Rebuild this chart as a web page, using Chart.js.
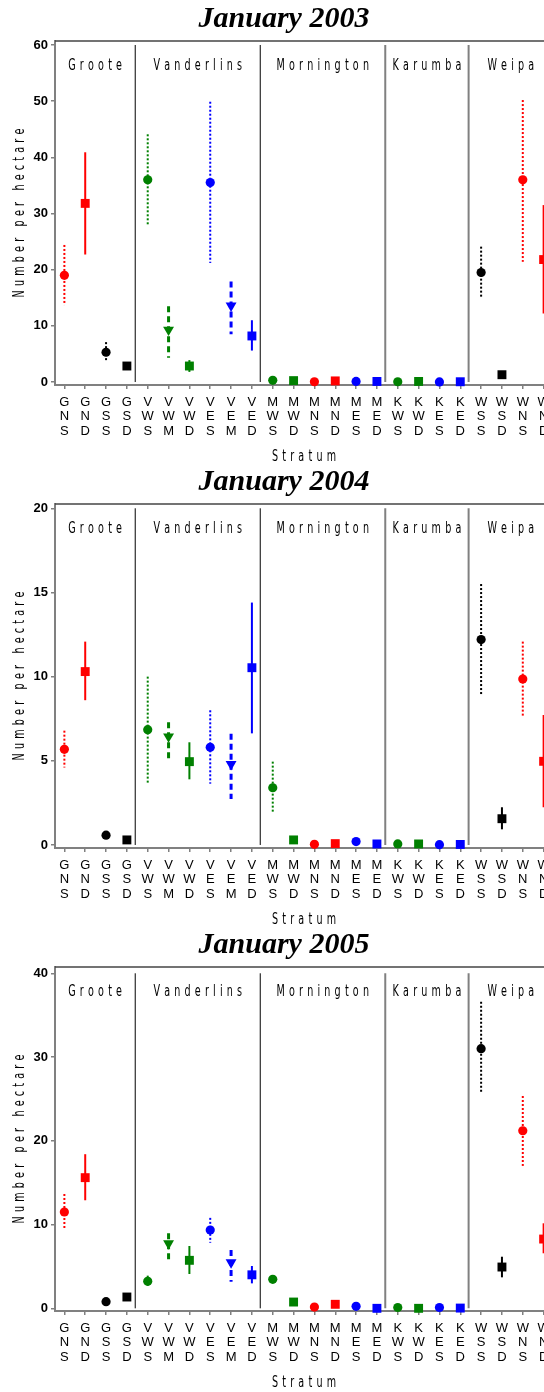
<!DOCTYPE html>
<html>
<head>
<meta charset="utf-8">
<script src="https://cdn.jsdelivr.net/npm/chart.js@4.4.1/dist/chart.umd.min.js"></script>
<style>
  html, body { margin: 0; padding: 0; background: #fff; overflow: hidden; }
  #wrap { position: relative; width: 544px; height: 1392px; overflow: hidden; background: #fff; }
  #wrap canvas { position: absolute; left: 0; }
</style>
</head>
<body>
<div id="wrap">
  <canvas id="c2003" width="568" height="463" style="top:0px"></canvas>
  <canvas id="c2004" width="568" height="463" style="top:463px"></canvas>
  <canvas id="c2005" width="568" height="466" style="top:926px"></canvas>
</div>
<script>
// Strata: region letter, sub-area letter, depth letter (S shallow, M mid, D deep)
const strata = ['GNS','GND','GSS','GSD','VWS','VWM','VWD','VES','VEM','VED',
                'MWS','MWD','MNS','MND','MES','MED','KWS','KWD','KES','KED',
                'WSS','WSD','WNS','WND'];
const regions = ['Groote', 'Vanderlins', 'Mornington', 'Karumba', 'Weipa'];
const regionCounts = [4, 6, 6, 4, 4];

// January 2003
const mean2003 = [19.0, 31.8, 5.3, 2.85, 36.0, 9.3, 2.85, 35.5, 13.6, 8.2,
                  0.3, 0.25, 0.05, 0.2, 0.1, 0.1, 0.05, 0.1, 0.02, 0.05,
                  19.5, 1.3, 36.0, 21.8];
const low2003  = [13.7, 22.7, 3.7, 2.6, 27.9, 4.3, 1.8, 21.2, 8.5, 5.6,
                  0.2, 0.2, 0.03, 0.15, 0.05, 0.05, 0.03, 0.05, 0.01, 0.03,
                  14.9, 1.1, 21.4, 12.2];
const high2003 = [24.4, 40.9, 7.1, 3.1, 44.1, 13.5, 3.9, 49.9, 17.9, 11.0,
                  0.4, 0.3, 0.07, 0.25, 0.15, 0.15, 0.07, 0.15, 0.03, 0.07,
                  24.1, 1.5, 50.2, 31.5];
const yTicks2003 = [0, 10, 20, 30, 40, 50, 60];

// January 2004
const mean2004 = [5.68, 10.3, 0.58, 0.3, 6.85, 6.44, 4.95, 5.8, 4.8, 10.53,
                  3.4, 0.3, 0.04, 0.08, 0.2, 0.06, 0.06, 0.06, 0.02, 0.03,
                  12.2, 1.56, 9.86, 4.97];
const low2004  = [4.6, 8.6, 0.5, 0.25, 3.7, 5.09, 3.9, 3.64, 2.73, 6.63,
                  1.92, 0.25, 0.02, 0.05, 0.15, 0.04, 0.04, 0.04, 0.01, 0.02,
                  8.9, 0.93, 7.68, 2.24];
const high2004 = [6.79, 12.08, 0.66, 0.35, 10.0, 7.29, 6.1, 8.0, 6.6, 14.4,
                  4.95, 0.35, 0.06, 0.11, 0.25, 0.08, 0.08, 0.08, 0.03, 0.04,
                  15.5, 2.24, 12.08, 7.72];
const yTicks2004 = [0, 5, 10, 15, 20];

// January 2005
const mean2005 = [11.5, 15.6, 0.79, 1.35, 3.22, 7.75, 5.73, 9.35, 5.48, 4.0,
                  3.46, 0.75, 0.15, 0.48, 0.24, 0.0, 0.1, 0.0, 0.1, 0.03,
                  31.0, 4.93, 21.2, 8.27];
const low2005  = [9.55, 12.9, 0.7, 1.2, 2.5, 5.68, 4.1, 7.83, 3.18, 2.98,
                  3.0, 0.6, 0.1, 0.4, 0.18, 0.0, 0.05, 0.0, 0.05, 0.01,
                  25.7, 3.7, 17.0, 6.57];
const high2005 = [13.65, 18.4, 0.9, 1.5, 3.9, 8.96, 7.44, 10.8, 6.96, 5.05,
                  3.9, 0.9, 0.2, 0.55, 0.3, 0.0, 0.15, 0.0, 0.15, 0.05,
                  36.6, 6.16, 25.35, 10.15];
const yTicks2005 = [0, 10, 20, 30, 40];

// Styling keyed by the stratum code letters
const colourOf = { N: '#ff0000', S: '#000000', W: '#008000', E: '#0000ff' };
const shapeOf  = { S: 'circle', M: 'triangle', D: 'rect' };
const radiusOf = { S: 4.6, M: 6.3, D: 6.3 };
const dashOf   = { S: [2, 2], M: [6, 4], D: [] };
const widthOf  = { S: 2, M: 3, D: 2 };

const SANS = "'Liberation Sans', Arial, sans-serif";
const STROKE_FONT = "'DejaVu Sans', sans-serif";

// Thin, widely spaced lettering for panel and axis labels
function spacedText(ctx, text, cx, cy, angle) {
  const sx = 0.6, gap = 4.2;
  ctx.save();
  ctx.font = '16px ' + STROKE_FONT;
  ctx.fillStyle = '#000';
  ctx.textBaseline = 'alphabetic';
  ctx.textAlign = 'left';
  const chars = [...text];
  const widths = chars.map(ch => ctx.measureText(ch).width * sx);
  const total = widths.reduce((a, b) => a + b, 0) + gap * (chars.length - 1);
  ctx.translate(cx, cy);
  if (angle) ctx.rotate(angle);
  let x = -total / 2;
  chars.forEach((ch, i) => {
    ctx.save();
    ctx.translate(x, 0);
    ctx.scale(sx, 1);
    ctx.fillText(ch, 0, 0);
    ctx.restore();
    x += widths[i] + gap;
  });
  ctx.restore();
}

// Vertical confidence bars, line style by depth
const errorBarPlugin = {
  id: 'errorBars',
  beforeDatasetsDraw(chart, args, opts) {
    const { ctx, scales: { x, y } } = chart;
    ctx.save();
    ctx.lineCap = 'butt';
    strata.forEach((code, i) => {
      const kind = code[2];
      const px = x.getPixelForValue(i);
      ctx.beginPath();
      ctx.setLineDash(dashOf[kind]);
      ctx.lineWidth = widthOf[kind];
      ctx.strokeStyle = colourOf[code[1]];
      ctx.moveTo(px, y.getPixelForValue(opts.high[i]));
      ctx.lineTo(px, y.getPixelForValue(opts.low[i]));
      ctx.stroke();
    });
    ctx.restore();
  }
};

// Frame, region dividers, region names, axis titles and the panel title
const framePlugin = {
  id: 'frame',
  beforeDatasetsDraw(chart, args, opts) {
    const { ctx, chartArea: a, scales: { x, y } } = chart;
    ctx.save();
    // top frame line
    ctx.beginPath();
    ctx.strokeStyle = '#444';
    ctx.lineWidth = 1.5;
    ctx.moveTo(a.left, a.top);
    ctx.lineTo(chart.width, a.top);
    ctx.stroke();
    // dividers between regions
    const yBottom = y.getPixelForValue(0);
    const yTop = y.getPixelForValue(opts.ticks[opts.ticks.length - 1]);
    let cum = 0;
    const bounds = [a.left];
    regionCounts.forEach((n, k) => {
      cum += n;
      if (k < regionCounts.length - 1) {
        const px = x.getPixelForValue(cum - 0.6);
        bounds.push(px);
        ctx.beginPath();
        ctx.strokeStyle = k < 2 ? '#000' : '#808080';
        ctx.lineWidth = k < 2 ? 1 : 2;
        ctx.moveTo(px, yTop);
        ctx.lineTo(px, yBottom);
        ctx.stroke();
      }
    });
    bounds.push(a.right);
    ctx.restore();
    regions.forEach((name, k) => {
      spacedText(ctx, name, (bounds[k] + bounds[k + 1]) / 2, a.top + 29);
    });
  },
  afterDraw(chart, args, opts) {
    const { ctx, chartArea: a } = chart;
    spacedText(ctx, 'Number per hectare', 24, (a.top + a.bottom) / 2, -Math.PI / 2);
    spacedText(ctx, 'Stratum', (a.left + a.right) / 2, 460.5);
    ctx.save();
    ctx.font = "italic bold 30px 'Liberation Serif', 'Times New Roman', serif";
    ctx.fillStyle = '#000';
    ctx.textAlign = 'center';
    ctx.textBaseline = 'alphabetic';
    ctx.fillText(opts.title, 284, 27);
    ctx.restore();
  }
};

function makePanel(id, title, mean, low, high, ticks, yMin, yMax) {
  const canvas = document.getElementById(id);
  const H = canvas.height;
  const axisGrey = '#808080';
  return new Chart(canvas, {
    type: 'scatter',
    data: {
      datasets: [{
        data: strata.map((s, i) => ({ x: i, y: mean[i] })),
        pointStyle: c => shapeOf[strata[c.dataIndex][2]],
        pointRadius: c => radiusOf[strata[c.dataIndex][2]],
        pointHoverRadius: c => radiusOf[strata[c.dataIndex][2]],
        pointRotation: c => strata[c.dataIndex][2] === 'M' ? 180 : 0,
        backgroundColor: c => colourOf[strata[c.dataIndex][1]],
        borderColor: c => colourOf[strata[c.dataIndex][1]],
        borderWidth: 0,
        showLine: false,
        clip: false
      }]
    },
    options: {
      responsive: false,
      animation: false,
      devicePixelRatio: 1,
      events: [],
      layout: { padding: { top: 41, right: 15, left: 0, bottom: 0 } },
      plugins: {
        legend: { display: false },
        tooltip: { enabled: false },
        title: { display: false },
        errorBars: { low: low, high: high },
        frame: { title: title, ticks: ticks }
      },
      scales: {
        x: {
          type: 'linear',
          min: -0.45,
          max: 23.45,
          afterBuildTicks: s => { s.ticks = strata.map((_, i) => ({ value: i })); },
          afterFit: s => { s.height = H - 385; },
          ticks: {
            autoSkip: false,
            maxRotation: 0,
            padding: 6,
            color: '#000',
            font: { family: SANS, size: 13, lineHeight: 1.12 },
            callback: v => strata[v] ? strata[v].split('') : ''
          },
          grid: { drawOnChartArea: false, drawTicks: true, tickLength: 4, color: axisGrey, lineWidth: 1.5 },
          border: { color: axisGrey, width: 2 }
        },
        y: {
          type: 'linear',
          min: yMin,
          max: yMax,
          afterBuildTicks: s => { s.ticks = ticks.map(v => ({ value: v })); },
          afterFit: s => { s.width = 55; },
          ticks: {
            padding: 3,
            color: '#000',
            font: { family: SANS, size: 13, weight: 'bold' }
          },
          grid: { drawOnChartArea: false, drawTicks: true, tickLength: 4, color: axisGrey, lineWidth: 1.5 },
          border: { color: axisGrey, width: 2 }
        }
      }
    },
    plugins: [errorBarPlugin, framePlugin]
  });
}

makePanel('c2003', 'January 2003', mean2003, low2003, high2003, yTicks2003, -0.53, 60.71);
makePanel('c2004', 'January 2004', mean2004, low2004, high2004, yTicks2004, -0.18, 20.255);
makePanel('c2005', 'January 2005', mean2005, low2005, high2005, yTicks2005, -0.32, 40.75);
</script>
</body>
</html>
